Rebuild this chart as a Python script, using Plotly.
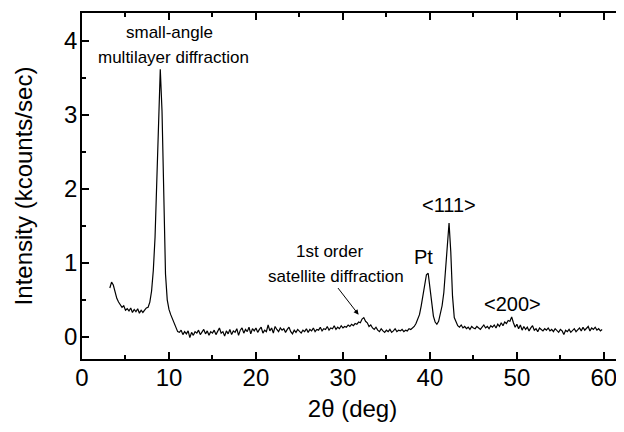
import plotly.graph_objects as go

# Sampling grid (2-theta, deg): start and step of the scan
X_START = 3.2
X_STEP = 0.2

# Intensity (kcounts/sec), one value per 0.2 deg from 3.2 deg
intensity = [
    0.66, 0.74, 0.70, 0.60, 0.52, 0.47, 0.44, 0.40, 0.42, 0.36,   # 3.2-5.0
    0.38, 0.35, 0.39, 0.33, 0.37, 0.34, 0.38, 0.32, 0.36, 0.33,   # 5.2-7.0
    0.36, 0.39, 0.40, 0.47, 0.62, 0.90, 1.35, 2.10, 3.00, 3.62,   # 7.2-9.0
    3.05, 1.80, 0.85, 0.50, 0.37, 0.30, 0.24, 0.18, 0.11, 0.07,   # 9.2-11.0
    0.06, 0.09, 0.03, 0.07, 0.04, 0.08, -0.01, 0.06, 0.02, 0.07,  # 11.2-13.0
    0.05, 0.09, 0.03, 0.06, 0.10, 0.04, 0.08, 0.02, 0.07, 0.05,   # 13.2-15.0
    0.09, 0.03, 0.08, 0.12, 0.05, 0.07, 0.01, 0.08, 0.04, 0.10,   # 15.2-17.0
    0.03, 0.08, 0.06, 0.11, 0.02, 0.09, 0.12, 0.05, 0.10, 0.07,   # 17.2-19.0
    0.13, 0.04, 0.11, 0.08, 0.12, 0.06, 0.10, 0.13, 0.05, 0.09,   # 19.2-21.0
    0.07, 0.16, 0.08, 0.12, 0.05, 0.14, 0.10, 0.07, 0.12, 0.09,   # 21.2-23.0
    0.11, 0.06, 0.10, 0.13, 0.07, 0.04, 0.09, 0.06, 0.10, 0.08,   # 23.2-25.0
    0.05, 0.09, 0.07, 0.11, 0.06, 0.10, 0.08, 0.12, 0.07, 0.10,   # 25.2-27.0
    0.09, 0.13, 0.08, 0.11, 0.10, 0.14, 0.09, 0.12, 0.11, 0.15,   # 27.2-29.0
    0.10, 0.13, 0.11, 0.15, 0.12, 0.14, 0.13, 0.16, 0.14, 0.17,   # 29.2-31.0
    0.15, 0.18, 0.17, 0.20, 0.19, 0.24, 0.26, 0.21, 0.19, 0.14,   # 31.2-33.0
    0.16, 0.12, 0.10, 0.13, 0.09, 0.07, 0.11, 0.08, 0.06, 0.09,   # 33.2-35.0
    0.07, 0.10, 0.06, 0.08, 0.11, 0.07, 0.09, 0.08, 0.10, 0.07,   # 35.2-37.0
    0.09, 0.08, 0.11, 0.10, 0.12, 0.14, 0.18, 0.24, 0.30, 0.42,   # 37.2-39.0
    0.55, 0.72, 0.84, 0.86, 0.65, 0.42, 0.28, 0.20, 0.17, 0.21,   # 39.2-41.0
    0.30, 0.42, 0.60, 0.90, 1.25, 1.54, 1.15, 0.55, 0.26, 0.19,   # 41.2-43.0
    0.15, 0.13, 0.16, 0.12, 0.14, 0.11, 0.13, 0.10, 0.14, 0.12,   # 43.2-45.0
    0.11, 0.14, 0.12, 0.10, 0.13, 0.16, 0.12, 0.14, 0.11, 0.15,   # 45.2-47.0
    0.13, 0.16, 0.12, 0.17, 0.14, 0.19, 0.15, 0.20, 0.18, 0.22,   # 47.2-49.0
    0.21, 0.27, 0.19, 0.13, 0.17, 0.11, 0.16, 0.09, 0.14, 0.10,   # 49.2-51.0
    0.13, 0.08, 0.12, 0.15, 0.09, 0.11, 0.07, 0.12, 0.10, 0.08,   # 51.2-53.0
    0.11, 0.09, 0.12, 0.08, 0.10, 0.07, 0.11, 0.09, 0.06, 0.10,   # 53.2-55.0
    0.08, 0.03, 0.09, 0.07, 0.10, 0.06, 0.09, 0.11, 0.07, 0.10,   # 55.2-57.0
    0.12, 0.08, 0.13, 0.09, 0.11, 0.14, 0.08, 0.12, 0.10, 0.13,   # 57.2-59.0
    0.09, 0.11, 0.08, 0.10,                                       # 59.2-59.8
]
two_theta = [round(X_START + X_STEP * i, 2) for i in range(len(intensity))]

x_ticks = [0, 10, 20, 30, 40, 50, 60]
y_ticks = [0, 1, 2, 3, 4]

FONT = "Liberation Sans, Arial, sans-serif"
TICK_SIZE = 24
TITLE_SIZE = 24

fig = go.Figure()
fig.add_trace(go.Scatter(x=two_theta, y=intensity, mode="lines",
                         line=dict(color="black", width=1.2), showlegend=False))

ann_font = dict(family=FONT, size=17, color="black")
big_font = dict(family=FONT, size=20, color="black")
annotations = [
    dict(x=10.1, y=4.12, text="small-angle", font=ann_font),
    dict(x=10.5, y=3.78, text="multilayer diffraction", font=ann_font),
    dict(x=28.5, y=1.16, text="1st order", font=ann_font),
    dict(x=29.2, y=0.81, text="satellite diffraction", font=ann_font),
    dict(x=39.3, y=1.08, text="Pt", font=big_font),
    dict(x=42.2, y=1.78, text="&lt;111&gt;", font=big_font),
    dict(x=49.5, y=0.45, text="&lt;200&gt;", font=big_font),
]
for a in annotations:
    fig.add_annotation(xref="x", yref="y", showarrow=False, **a)

# arrow pointing to the 1st order satellite peak
fig.add_annotation(x=31.8, y=0.30, ax=29.3, ay=0.68, xref="x", yref="y",
                   axref="x", ayref="y", text="", showarrow=True,
                   arrowhead=2, arrowsize=1, arrowwidth=1, arrowcolor="black")

axis_common = dict(showline=True, linecolor="black", linewidth=1.5, mirror="allticks",
                   ticks="inside", ticklen=7, tickwidth=1.5, tickcolor="black",
                   showgrid=False, zeroline=False, automargin=False,
                   tickfont=dict(family=FONT, size=TICK_SIZE, color="black"))

fig.update_xaxes(range=[0, 62.2], tickvals=x_ticks, ticktext=[str(v) for v in x_ticks],
                 minor=dict(dtick=5, ticks="inside", ticklen=4, tickcolor="black", showgrid=False),
                 ticklabelstandoff=-4,
                 title=dict(text="2θ (deg)", font=dict(family=FONT, size=TITLE_SIZE, color="black"), standoff=11),
                 **axis_common)
fig.update_yaxes(range=[-0.3, 4.38], tickvals=y_ticks, ticktext=[str(v) for v in y_ticks],
                 minor=dict(dtick=0.5, ticks="inside", ticklen=4, tickcolor="black", showgrid=False),
                 ticklabelstandoff=-2,
                 title=dict(text="Intensity (kcounts/sec)", font=dict(family=FONT, size=TITLE_SIZE, color="black"), standoff=25),
                 **axis_common)

# The page body has an 8px margin; the figure is sized so that it fits the 624x432 window.
fig.update_layout(width=616, height=416, margin=dict(l=74, r=1, t=5, b=65),
                  plot_bgcolor="white", paper_bgcolor="white")

fig.write_html("out.html")
